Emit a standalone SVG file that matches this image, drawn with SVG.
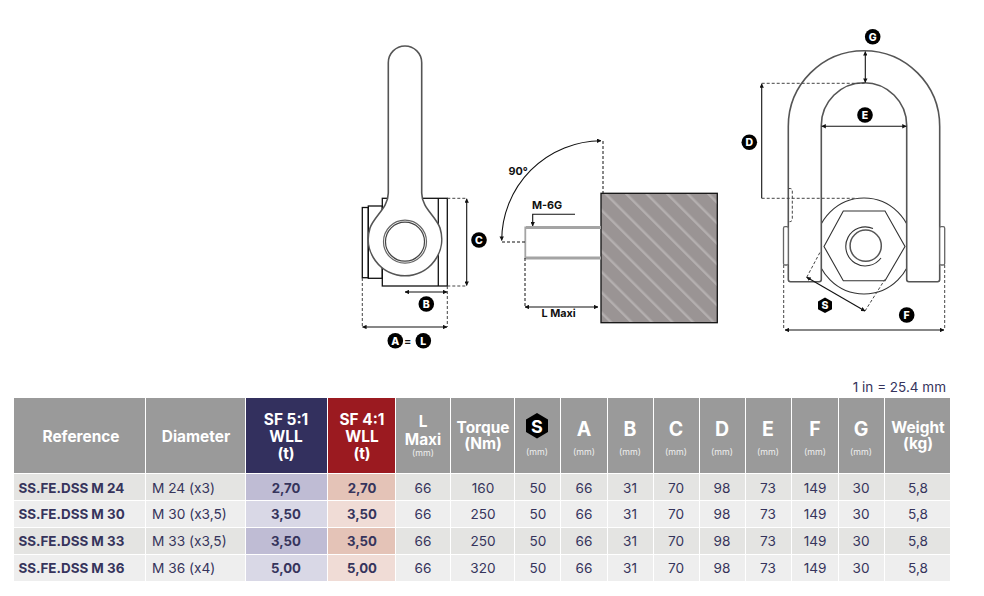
<svg xmlns="http://www.w3.org/2000/svg" width="984" height="596" viewBox="0 0 984 596">
<style>
text{font-family:"Inter","Liberation Sans",sans-serif;fill:#36345c}
.h{fill:#fff;font-weight:700;font-size:15.4px;text-anchor:middle}
.hl{fill:#fff;font-weight:700;font-size:19.5px;text-anchor:middle}
.mm{fill:#eee;font-size:8.8px;text-anchor:middle}
.v{font-size:13.6px;text-anchor:middle}
.b{font-size:13.2px;font-weight:700;text-anchor:middle}
.r{font-size:13.4px;font-weight:700}
.d{font-size:13.7px}
.o{stroke:#555;stroke-width:1.6;fill:#fff}
.k{fill:none;stroke:#111;stroke-width:1.3}
.g{fill:none;stroke:#a4a4a4;stroke-width:2.8}
.da{fill:none;stroke:#444;stroke-width:1;stroke-dasharray:3 2}
.dim{fill:none;stroke:#111;stroke-width:1.1;marker-start:url(#a);marker-end:url(#a)}
.bd{fill:#000}
.bt{fill:#fff;font-size:10.5px;font-weight:800;text-anchor:middle}
.lb{fill:#111;font-size:10.8px;font-weight:700}
.hg{fill:#9a9a9a}.navy{fill:#33305e}.red{fill:#9b1a20}
.r1{fill:#e4e4e2}.r2{fill:#eee}.p1{fill:#bfbcd4}.p2{fill:#d9d8e6}.q1{fill:#e4c3b7}.q2{fill:#f0dcd6}
</style>
<defs>
<marker id="a" viewBox="0 0 6 6" refX="5.5" refY="3" markerWidth="4" markerHeight="4" orient="auto-start-reverse"><path d="M0 0L6 3L0 6z" fill="#111"/></marker>
<pattern id="hatch" width="14.5" height="14.5" patternUnits="userSpaceOnUse" patternTransform="rotate(-45)"><rect width="14.5" height="14.5" fill="#9a9494"/><rect width="2.4" height="14.5" fill="#b4afaf"/></pattern>
</defs>

<g id="side-view">
<rect class="k" x="382.3" y="198.3" width="65" height="87.7"/>
<path class="k" d="M438.3 198.3V286"/>
<rect class="k" x="368.3" y="206" width="14" height="72.3"/>
<rect class="k" x="362.3" y="207.5" width="6" height="70.2"/>
<path d="M388.3 62.7A16.7 16.7 0 0 1 421.7 62.7V193C421.7 208 436 216 440 228A36.7 36.7 0 1 1 370 228C374 216 388.3 208 388.3 193Z" fill="#fff" stroke="#555" stroke-width="1.6"/>
<circle cx="405" cy="241.7" r="21.5" fill="#fff" stroke="#666" stroke-width="1.2"/>
<circle cx="405" cy="241.7" r="19.5" fill="#fff" stroke="#444" stroke-width="1.2"/>
</g>

<g id="block-view">
<rect x="601" y="193.3" width="116.3" height="129.4" fill="url(#hatch)" stroke="#111" stroke-width="1.3"/>
<path class="g" d="M526 227.5H601M526 258H601"/>
<path class="g" d="M525.3 226.5V259" style="stroke-width:1.8"/>
</g>

<g id="front-view">
<circle cx="864" cy="246" r="48" fill="none" stroke="#333" stroke-width="1.1"/>
<path class="o" d="M788.3 126.4A75.7 75.7 0 0 1 939.7 126.4V279.5Q939.7 281.7 937.5 281.7H908.9Q906.7 281.7 906.7 279.5V125.4A42.7 42.7 0 0 0 821.3 125.4V279.5Q821.3 281.7 819.1 281.7H790.5Q788.3 281.7 788.3 279.5Z"/>
<path d="M824 246.5L843.3 211H885L905 246.5L885 280.7H843.3Z" fill="#fff" stroke="#333" stroke-width="1.1"/>
<circle cx="865.7" cy="245.7" r="15.6" fill="none" stroke="#555" stroke-width="1.5"/>
<path d="M873 228.5A19.5 19.5 0 1 0 881 258" fill="none" stroke="#333" stroke-width="1.1"/>
<rect x="783.5" y="226.7" width="4.8" height="38.3" rx="1.5" fill="#fff" stroke="#666" stroke-width="1.3"/>
<rect x="939.7" y="226.7" width="5" height="38.3" rx="1.5" fill="#fff" stroke="#666" stroke-width="1.3"/>
<path class="da" d="M788.5 188.5H790Q792.3 188.5 792.3 191V219Q792.3 221.7 789.5 221.7"/>
</g>

<g id="connectors">
<path class="da" d="M447.3 198.3H466M447.3 286H466M362.3 278V327M447.3 286V327"/>
<path class="dim" d="M466.7 198.8V285.5"/>
<path class="dim" d="M405 292H447"/>
<path class="dim" d="M362.5 327H447"/>
<path class="da" d="M603 141V193M502 242H525M525 258V307" style="stroke:#111"/>
<path class="dim" d="M601 140.7A100 100 0 0 0 501.7 240.5"/>
<path class="dim" d="M525 307H598"/>
<path d="M575 214.3H532.7V226" fill="none" stroke="#111" stroke-width="1.1" marker-end="url(#a)"/>
<path class="dim" d="M865.3 51.5V82.5"/>
<path class="dim" d="M821.8 126.3H906.3"/>
<path class="da" d="M761.7 83.3H865M761.7 198.3H855"/>
<path d="M761.7 198.3V83.8" fill="none" stroke="#111" stroke-width="1.1" marker-end="url(#a)"/>
<path class="da" d="M783.7 265V330M944.7 265V330M806.7 277.3L820.7 251M865 311L885 279.3"/>
<path class="dim" d="M785 330H944"/>
<path class="dim" d="M806.7 277.3L865 311"/>
</g>

<g id="label-a"><circle class="bd" cx="395.3" cy="340.7" r="7.8"/><text class="bt" x="395.3" y="344.5">A</text></g>
<g id="label-equals"><text class="lb" x="407.7" y="345" text-anchor="middle">=</text></g>
<g id="label-l"><circle class="bd" cx="423.3" cy="340.7" r="7.8"/><text class="bt" x="423.3" y="344.5">L</text></g>
<g id="label-b"><circle class="bd" cx="426.3" cy="304" r="7.8"/><text class="bt" x="426.3" y="307.8">B</text></g>
<g id="label-c"><circle class="bd" cx="479" cy="240" r="7.8"/><text class="bt" x="479" y="243.8">C</text></g>
<g id="label-d"><circle class="bd" cx="749.3" cy="142.3" r="7.8"/><text class="bt" x="749.3" y="146.1">D</text></g>
<g id="label-e"><circle class="bd" cx="865" cy="115" r="7.8"/><text class="bt" x="865" y="118.8">E</text></g>
<g id="label-g"><circle class="bd" cx="872.7" cy="36.7" r="7.8"/><text class="bt" x="872.7" y="40.5">G</text></g>
<g id="label-f"><circle class="bd" cx="906.7" cy="315" r="7.8"/><text class="bt" x="906.7" y="318.8">F</text></g>
<g id="label-s"><path class="bd" d="M825 297.5L832 301.4V309.2L825 313.1L818 309.2V301.4Z"/><text class="bt" x="825" y="309.1">S</text></g>
<g id="label-90"><text class="lb" x="508.5" y="174.5">90°</text></g>
<g id="label-m6g"><text class="lb" x="532" y="209">M-6G</text></g>
<g id="label-lmaxi"><text class="lb" x="541.5" y="317">L Maxi</text></g>

<g id="table">
<text x="946" y="391.7" text-anchor="end" font-size="13.5">1 in = 25.4 mm</text>
<g id="header">
<rect class="hg" x="14" y="398" width="131" height="75"/>
<rect class="hg" x="146" y="398" width="99" height="75"/>
<rect class="navy" x="246" y="398" width="81" height="75"/>
<rect class="red" x="328" y="398" width="67" height="75"/>
<rect class="hg" x="396" y="398" width="54" height="75"/>
<rect class="hg" x="451" y="398" width="63" height="75"/>
<rect class="hg" x="515" y="398" width="45" height="75"/>
<rect class="hg" x="561" y="398" width="46" height="75"/>
<rect class="hg" x="608" y="398" width="45" height="75"/>
<rect class="hg" x="654" y="398" width="45" height="75"/>
<rect class="hg" x="700" y="398" width="45" height="75"/>
<rect class="hg" x="746" y="398" width="45" height="75"/>
<rect class="hg" x="792" y="398" width="46" height="75"/>
<rect class="hg" x="839" y="398" width="45" height="75"/>
<rect class="hg" x="885" y="398" width="65" height="75"/>
<text class="h" x="81" y="442">Reference</text>
<text class="h" x="196" y="442">Diameter</text>
<text class="h" x="286" y="425">SF 5:1</text><text class="h" x="286" y="442">WLL</text><text class="h" x="286" y="459">(t)</text>
<text class="h" x="362" y="425">SF 4:1</text><text class="h" x="362" y="442">WLL</text><text class="h" x="362" y="459">(t)</text>
<text class="h" x="423" y="427">L</text><text class="h" x="423" y="445">Maxi</text><text class="mm" x="423" y="456">(mm)</text>
<text class="h" x="483" y="433">Torque</text><text class="h" x="483" y="449">(Nm)</text>
<path d="M537 413L548 419.5V432L537 438.5L526 432V419.5Z" fill="#000"/><text class="hl" x="537" y="432.5" style="font-size:18px">S</text><text class="mm" x="537" y="455">(mm)</text>
<text class="hl" x="584" y="436">A</text><text class="mm" x="584" y="455">(mm)</text>
<text class="hl" x="630" y="436">B</text><text class="mm" x="630" y="455">(mm)</text>
<text class="hl" x="676" y="436">C</text><text class="mm" x="676" y="455">(mm)</text>
<text class="hl" x="722" y="436">D</text><text class="mm" x="722" y="455">(mm)</text>
<text class="hl" x="768" y="436">E</text><text class="mm" x="768" y="455">(mm)</text>
<text class="hl" x="815" y="436">F</text><text class="mm" x="815" y="455">(mm)</text>
<text class="hl" x="861" y="436">G</text><text class="mm" x="861" y="455">(mm)</text>
<text class="h" x="918" y="433">Weight</text><text class="h" x="918" y="449">(kg)</text>
</g>
<g id="row-1">
<rect class="r1" x="14" y="474" width="936" height="26"/><rect class="p1" x="246" y="474" width="81" height="26"/><rect class="q1" x="328" y="474" width="67" height="26"/>
<text class="r" x="18.5" y="492.5">SS.FE.DSS M 24</text><text class="d" x="152" y="492.5">M 24 (x3)</text><text class="b" x="286" y="492.5">2,70</text><text class="b" x="362" y="492.5">2,70</text><text class="v" x="423" y="492.5">66</text><text class="v" x="483" y="492.5">160</text><text class="v" x="538" y="492.5">50</text><text class="v" x="584" y="492.5">66</text><text class="v" x="630" y="492.5">31</text><text class="v" x="676" y="492.5">70</text><text class="v" x="722" y="492.5">98</text><text class="v" x="768" y="492.5">73</text><text class="v" x="815" y="492.5">149</text><text class="v" x="861" y="492.5">30</text><text class="v" x="918" y="492.5">5,8</text>
</g>
<g id="row-2">
<rect class="r2" x="14" y="501" width="936" height="26"/><rect class="p2" x="246" y="501" width="81" height="26"/><rect class="q2" x="328" y="501" width="67" height="26"/>
<text class="r" x="18.5" y="519">SS.FE.DSS M 30</text><text class="d" x="152" y="519">M 30 (x3,5)</text><text class="b" x="286" y="519">3,50</text><text class="b" x="362" y="519">3,50</text><text class="v" x="423" y="519">66</text><text class="v" x="483" y="519">250</text><text class="v" x="538" y="519">50</text><text class="v" x="584" y="519">66</text><text class="v" x="630" y="519">31</text><text class="v" x="676" y="519">70</text><text class="v" x="722" y="519">98</text><text class="v" x="768" y="519">73</text><text class="v" x="815" y="519">149</text><text class="v" x="861" y="519">30</text><text class="v" x="918" y="519">5,8</text>
</g>
<g id="row-3">
<rect class="r1" x="14" y="528" width="936" height="26"/><rect class="p1" x="246" y="528" width="81" height="26"/><rect class="q1" x="328" y="528" width="67" height="26"/>
<text class="r" x="18.5" y="545.5">SS.FE.DSS M 33</text><text class="d" x="152" y="545.5">M 33 (x3,5)</text><text class="b" x="286" y="545.5">3,50</text><text class="b" x="362" y="545.5">3,50</text><text class="v" x="423" y="545.5">66</text><text class="v" x="483" y="545.5">250</text><text class="v" x="538" y="545.5">50</text><text class="v" x="584" y="545.5">66</text><text class="v" x="630" y="545.5">31</text><text class="v" x="676" y="545.5">70</text><text class="v" x="722" y="545.5">98</text><text class="v" x="768" y="545.5">73</text><text class="v" x="815" y="545.5">149</text><text class="v" x="861" y="545.5">30</text><text class="v" x="918" y="545.5">5,8</text>
</g>
<g id="row-4">
<rect class="r2" x="14" y="555" width="936" height="26"/><rect class="p2" x="246" y="555" width="81" height="26"/><rect class="q2" x="328" y="555" width="67" height="26"/>
<text class="r" x="18.5" y="572.5">SS.FE.DSS M 36</text><text class="d" x="152" y="572.5">M 36 (x4)</text><text class="b" x="286" y="572.5">5,00</text><text class="b" x="362" y="572.5">5,00</text><text class="v" x="423" y="572.5">66</text><text class="v" x="483" y="572.5">320</text><text class="v" x="538" y="572.5">50</text><text class="v" x="584" y="572.5">66</text><text class="v" x="630" y="572.5">31</text><text class="v" x="676" y="572.5">70</text><text class="v" x="722" y="572.5">98</text><text class="v" x="768" y="572.5">73</text><text class="v" x="815" y="572.5">149</text><text class="v" x="861" y="572.5">30</text><text class="v" x="918" y="572.5">5,8</text>
</g>
<g id="col-gaps" stroke="#fff" stroke-width="1" fill="none">
<path d="M145.5 474V581M245.5 474V581M327.5 474V581M395.5 474V581M450.5 474V581M514.5 474V581M560.5 474V581M607.5 474V581M653.5 474V581M699.5 474V581M745.5 474V581M791.5 474V581M838.5 474V581M884.5 474V581"/>
</g>
</g>
</svg>
